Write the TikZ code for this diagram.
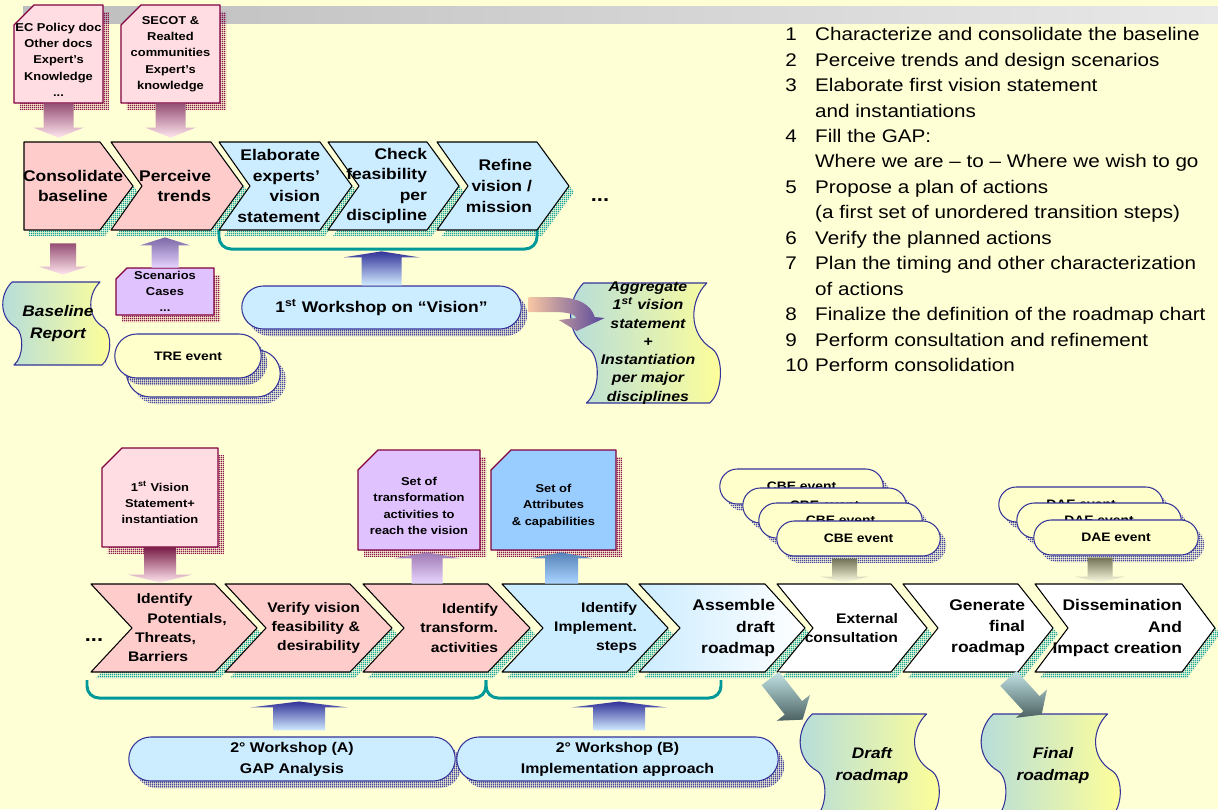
\documentclass[tikz,border=0pt]{standalone}
\usepackage{fontspec}
\setmainfont{Liberation Sans}[FakeStretch=1.13]
\usetikzlibrary{calc,shapes.misc,shadows,patterns.meta}

\definecolor{bgyellow}{HTML}{FFFFD6}
\definecolor{barL}{HTML}{BDBDBD}
\definecolor{barR}{HTML}{E8E8E8}
\definecolor{chpink}{HTML}{FFCCCC}
\definecolor{chblue}{HTML}{CCECFF}
\definecolor{docpink}{HTML}{FFDDE3}
\definecolor{docpurple}{HTML}{E0C2FF}
\definecolor{docblue}{HTML}{99CCFF}
\definecolor{docedge}{HTML}{800040}
\definecolor{shteal}{HTML}{009999}
\definecolor{wsedge}{HTML}{333399}
\definecolor{evyellow}{HTML}{FFFFCC}
\definecolor{wavyL}{HTML}{B4DCDC}
\definecolor{wavyR}{HTML}{FFFF99}

\tikzdeclarepattern{
  name=finegrid,
  type=uncolored,
  bounding box={(0pt,0pt) and (1.2pt,1.2pt)},
  tile size={(1.2pt,1.2pt)},
  code={\draw[line width=0.6pt] (0pt,0.6pt) -- (1.2pt,0.6pt) (0.6pt,0pt) -- (0.6pt,1.2pt);}
}

\tikzset{
  chev/.style={draw=black, line width=0.6pt, general shadow={shadow xshift=0.1cm, shadow yshift=-0.12cm, pattern=finegrid, pattern color=shteal}},
  ctext/.style={font=\fontsize{8.8}{11.7}\selectfont\bfseries},
  btext/.style={font=\fontsize{7.9}{11}\selectfont\bfseries},
  bbtext/.style={font=\fontsize{8.8}{12}\selectfont\bfseries},
  docshape/.style={draw=docedge, line width=0.7pt, general shadow={shadow xshift=0.12cm, shadow yshift=-0.14cm, pattern=finegrid, pattern color=docedge}},
  doctext/.style={inner sep=0pt, align=center, font=\fontsize{6.5}{9.3}\selectfont\bfseries},
  stad/.style={rounded rectangle, draw=wsedge, line width=0.6pt, inner sep=1pt, align=center, general shadow={shadow xshift=0.12cm, shadow yshift=-0.14cm, pattern=finegrid, pattern color=wsedge}},
  event/.style={stad, fill=evyellow, font=\fontsize{7}{9}\selectfont\bfseries},
  wavy/.style={draw=wsedge, line width=0.6pt, left color=wavyL, right color=wavyR},
  wtext/.style={font=\fontsize{8.7}{12.5}\selectfont\bfseries\itshape, align=center, inner sep=0pt},
  brace/.style={draw=shteal, line width=1.7pt, rounded corners=0.24cm},
  arrpink/.style={top color={rgb,255:red,149;green,80;blue,117}, bottom color={rgb,255:red,255;green,230;blue,238}},
  arrvis/.style={top color={rgb,255:red,122;green,30;blue,72}, bottom color={rgb,255:red,255;green,230;blue,238}},
  arrpurple/.style={top color={rgb,255:red,123;green,104;blue,166}, bottom color={rgb,255:red,230;green,211;blue,255}},
  arrtrans/.style={top color={rgb,255:red,158;green,120;blue,178}, bottom color={rgb,255:red,233;green,214;blue,255}},
  arrnavy/.style={top color=wsedge, bottom color={rgb,255:red,210;green,236;blue,255}},
  arrblue/.style={top color={rgb,255:red,86;green,130;blue,184}, bottom color={rgb,255:red,171;green,213;blue,255}},
  arrolive/.style={top color={rgb,255:red,114;green,114;blue,87}, bottom color={rgb,255:red,255;green,255;blue,228}},
  arrslate/.style={top color={rgb,255:red,194;green,228;blue,230}, bottom color={rgb,255:red,76;green,97;blue,97}},
  arrcurve/.style={left color={rgb,255:red,247;green,198;blue,163}, right color={rgb,255:red,86;green,70;blue,154}},
}

% chevron: [fill] name, left x, right x, notch, point, text options, text
\def\cyt{142}\def\cyb{230}
\newcommand\chevron[8][]{%
  \path[chev,#1] (#3,\cyt) -- (#4,\cyt) -- ({#4+#6},{(\cyt+\cyb)/2}) -- (#4,\cyb) -- (#3,\cyb) -- ({#3+#5},{(\cyt+\cyb)/2}) -- cycle;
  \pgfmathsetmacro\chw{(#4-#3)*0.02}
  \node[inner sep=0pt, minimum height={(\cyb-\cyt)*0.02cm}, text width=\chw cm, #7] (#2) at ({(#3+#4)/2},{(\cyt+\cyb)/2}) {#8};}

% document with cut corner: [fill] name, x1, y1, x2, y2, cut, text
\newcommand\docbox[8][]{%
  \path[docshape,#1] (#3,{#4+#7}) -- ({#3+#7},#4) -- (#5,#4) -- (#5,#6) -- (#3,#6) -- cycle;
  \pgfmathsetmacro\dbw{(#5-#3)*0.02}\pgfmathsetmacro\dbh{(#6-#4)*0.02}
  \node[doctext, minimum width=\dbw cm, minimum height=\dbh cm] (#2) at ({(#3+#5)/2},{(#4+#6)/2}) {#8};}

% block arrow: [shading] from, to, shaft half, head half, head length (px)
\newcommand\barrow[6][]{%
  \coordinate (bh) at ($(#3)!#6*0.02cm!(#2)$);
  \path[#1] ($(#2)!#4*0.02cm!90:(#3)$) -- ($(bh)!#4*0.02cm!-90:(#2)$) -- ($(bh)!#5*0.02cm!-90:(#2)$) -- (#3)
    -- ($(bh)!#5*0.02cm!90:(#2)$) -- ($(bh)!#4*0.02cm!90:(#2)$) -- ($(#2)!#4*0.02cm!-90:(#3)$) -- cycle;}

% wavy document: [text options] name, x, y, w, h, text
\newcommand\wavydoc[7][]{%
  \pgfmathsetmacro\wdx{#5*0.02}\pgfmathsetmacro\wdy{#6*0.02}
  \begin{scope}[shift={(#3,#4)}, x=\wdx cm, y=-\wdy cm]
    \path[wavy] (0.04,0) -- (0.92,0) .. controls (0.80,0.14) and (0.78,0.42) .. (0.96,0.55)
      .. controls (1.04,0.62) and (1.04,0.90) .. (0.94,1) -- (0.06,1)
      .. controls (0.16,0.90) and (0.16,0.62) .. (0.08,0.55)
      .. controls (-0.10,0.42) and (-0.08,0.14) .. (0.04,0) -- cycle;
    \node[wtext, minimum width=\wdx cm, minimum height=\wdy cm, #1] (#2) at (0.5,0.5) {#7};
  \end{scope}}

\newcommand\stepno[1]{\makebox[17pt][l]{#1}}
\newcommand\stepgo{\hspace*{17pt}}

\begin{document}
\begin{tikzpicture}[x=0.02cm, y=-0.02cm, line join=round]
%%%%% START %%%%%
\useasboundingbox (0,0) rectangle (1218,809);
\fill[bgyellow] (0,0) rectangle (1218,809);
\shade[left color=barL, right color=barR] (23,6) rectangle (1218,23);

%%%%% TOP ROW %%%%%
\draw[brace] (219,230) -- (219,249) -- (537,249) -- (537,230);

\chevron[fill=chpink]{c1}{24}{100}{0}{33}{ctext, align=center, text width=2cm, xshift=0.22cm}{Consolidate\\baseline}
\chevron[fill=chpink]{c2}{111}{211}{31}{32}{ctext, align=right}{Perceive\\trends}
\chevron[fill=chblue]{c3}{219}{320}{31}{32}{ctext, align=right}{Elaborate\\experts’\\vision\\statement}
\chevron[fill=chblue]{c4}{328}{427}{31}{32}{ctext, align=right}{Check\\feasibility\\per\\discipline}
\chevron[fill=chblue]{c5}{437}{537}{31}{32}{ctext, align=right, xshift=-0.1cm}{Refine\\vision /\\mission}
\node[font=\fontsize{11}{11}\selectfont\bfseries] (dots1) at (600,200) {...};

\docbox[fill=docpink]{doc1}{14}{5}{103}{103}{20}{\mbox{}\\[2pt]EC Policy doc\\Other docs\\Expert’s\\Knowledge\\...}
\docbox[fill=docpink]{doc2}{121}{5}{220}{103}{20}{SECOT \&\\Realted\\communities\\Expert’s\\knowledge}

\coordinate (a1s) at (doc1.south);
\coordinate (a1e) at ($(doc1.south |- c1.north)+(0,-4)$);
\barrow[arrpink]{a1s}{a1e}{15}{25}{10}
\coordinate (a2s) at (doc2.south);
\coordinate (a2e) at ($(doc2.south |- c2.north)+(0,-4)$);
\barrow[arrpink]{a2s}{a2e}{15}{25}{10}

\wavydoc{base}{8}{282}{100}{83}{Baseline\\Report}
\coordinate (a3s) at ($(base.north |- c1.south)+(5,13)$);
\coordinate (a3e) at ($(base.north)+(5,-7)$);
\barrow[arrpink]{a3s}{a3e}{13}{24}{8}

\docbox[fill=docpurple]{scen}{116}{268}{214}{315}{11}{Scenarios\\Cases\\...}
\coordinate (a4s) at (scen.north);
\coordinate (a4e) at ($(scen.north |- c2.south)+(0,7)$);
\barrow[arrpurple]{a4s}{a4e}{13.5}{25}{8}

\node[event, minimum width=3.14cm, minimum height=0.94cm] (tre2) at (203.5,373.5) {};
\node[event, minimum width=3cm, minimum height=0.88cm] (tre1) at (188,356) {TRE event};

\node[stad, fill=chblue, minimum width=5.66cm, minimum height=0.86cm, font=\fontsize{8.8}{10}\selectfont\bfseries] (ws1) at (381.5,307.5) {1\textsuperscript{st} Workshop on “Vision”};
\coordinate (a5s) at (ws1.north);
\coordinate (a5e) at ($(ws1.north |- c3.south)+(0,21)$);
\barrow[arrnavy]{a5s}{a5e}{20}{38}{6}

\wavydoc[font=\fontsize{8}{10.4}\selectfont\bfseries\itshape]{agg}{578}{283}{140}{120}{Aggregate\\1\textsuperscript{st} vision\\statement\\+\\Instantiation\\per major\\disciplines}
\coordinate (cv) at ($(ws1.east)+(7,-3)$);
\path[arrcurve, shift={(cv)}] (0,-7.5) -- (25,-7.5) .. controls (50,-7.5) and (62,0) .. (66,12.5)
  -- (76,13.5) -- (48,26.5) -- (30,15.5) -- (48,13.5) .. controls (46,9.5) and (38,7.5) .. (25,7.5) -- (0,7.5) -- cycle;

\node[anchor=north west, align=left, inner sep=0pt, font=\fontsize{10.4}{14.5}\selectfont] (steps) at (785,27) {%
\stepno{1}Characterize and consolidate the baseline\\
\stepno{2}Perceive trends and design scenarios\\
\stepno{3}Elaborate first vision statement\\
\stepgo and instantiations\\
\stepno{4}Fill the GAP:\\
\stepgo Where we are – to – Where we wish to go\\
\stepno{5}Propose a plan of actions\\
\stepgo (a first set of unordered transition steps)\\
\stepno{6}Verify the planned actions\\
\stepno{7}Plan the timing and other characterization\\
\stepgo of actions\\
\stepno{8}Finalize the definition of the roadmap chart\\
\stepno{9}Perform consultation and refinement\\
\stepno{10}Perform consolidation};

%%%%% BOTTOM ROW %%%%%
\draw[brace] (87,680) -- (87,698) -- (486,698) -- (486,680);
\draw[brace] (486,680) -- (486,698) -- (721,698) -- (721,680);

\def\cyt{584}\def\cyb{672}
\chevron[fill=chpink]{b1}{91}{215}{41}{42}{btext, align=left, text width=2cm, xshift=0.5cm}{\hspace*{5pt}Identify\\\hspace*{11pt}Potentials,\\\hspace*{4pt}Threats,\\Barriers}
\chevron[fill=chpink]{b2}{225}{350}{41}{42}{btext, align=right, xshift=0.2cm}{Verify vision\\feasibility \&\\desirability}
\chevron[fill=chpink]{b3}{363}{488}{41}{42}{btext, align=right, xshift=0.2cm}{Identify\\transform.\\activities}
\chevron[fill=chblue]{b4}{502}{627}{41}{41}{btext, align=right, xshift=0.2cm}{Identify\\Implement.\\steps}
\chevron[left color=chblue, right color=white]{b5}{639}{765}{41}{40}{bbtext, align=right, xshift=0.2cm}{Assemble\\draft\\roadmap}
\chevron[fill=white]{b6}{777}{891}{36}{36}{btext, align=right, xshift=0.14cm}{External\\consultation}
\chevron[fill=white]{b7}{903}{1018}{35}{35}{bbtext, align=right, xshift=0.14cm}{Generate\\final\\roadmap}
\chevron[fill=white]{b8}{1035}{1182}{33}{33}{bbtext, align=right}{Dissemination\\And\\Impact creation}
\node[font=\fontsize{11}{11}\selectfont\bfseries] (dots2) at (94,640) {...};

\docbox[fill=docpink]{vis}{102}{448}{218}{547}{20}{\mbox{}\\[2pt]1\textsuperscript{st} Vision\\Statement+\\instantiation}
\docbox[fill=docpurple]{trans}{358}{450}{480}{550}{20}{\mbox{}\\[2pt]Set of\\transformation\\activities to\\reach the vision}
\docbox[fill=docblue]{attr}{491}{450}{616}{550}{20}{\mbox{}\\[2pt]Set of\\Attributes\\\& capabilities}

\coordinate (a6s) at (vis.south);
\coordinate (a6e) at ($(vis.south |- b1.north)+(0,-1)$);
\barrow[arrvis]{a6s}{a6e}{16}{32}{8}
\coordinate (a7s) at ($(trans.south |- b3.north)+(8,0)$);
\coordinate (a7e) at ($(trans.south)+(8,2)$);
\barrow[arrtrans]{a7s}{a7e}{15.5}{33}{6}
\coordinate (a8s) at ($(attr.south |- b4.north)+(8,0)$);
\coordinate (a8e) at ($(attr.south)+(8,2)$);
\barrow[arrblue]{a8s}{a8e}{16.5}{31}{6}

\node[event, minimum width=3.34cm, minimum height=0.7cm] (cbe4) at (801.5,486.5) {CBE event};
\node[event, minimum width=3.34cm, minimum height=0.7cm] (cbe3) at (824.5,505.5) {CBE event};
\node[event, minimum width=3.34cm, minimum height=0.7cm] (cbe2) at (840.5,520.5) {CBE event};
\node[event, minimum width=3.34cm, minimum height=0.7cm] (cbe1) at (858.5,538.5) {CBE event};
\coordinate (a9s) at ($(cbe1.south)+(-14,2)$);
\coordinate (a9e) at ($(cbe1.south |- b6.north)+(-14,-1)$);
\barrow[arrolive]{a9s}{a9e}{12.5}{24}{6}

\node[event, minimum width=3.36cm, minimum height=0.7cm] (dae3) at (1081,504.5) {DAE event};
\node[event, minimum width=3.36cm, minimum height=0.7cm] (dae2) at (1099,520.5) {DAE event};
\node[event, minimum width=3.36cm, minimum height=0.7cm] (dae1) at (1116,537.5) {DAE event};
\coordinate (a10s) at ($(dae1.south)+(-16,2)$);
\coordinate (a10e) at ($(dae1.south |- b8.north)+(-16,-1)$);
\barrow[arrolive]{a10s}{a10e}{12.5}{25}{6}

\node[stad, fill=chblue, minimum width=6.6cm, minimum height=0.88cm, font=\fontsize{8}{12}\selectfont\bfseries] (wsA) at (292,759) {2° Workshop (A)\\GAP Analysis};
\node[stad, fill=chblue, minimum width=6.5cm, minimum height=0.88cm, font=\fontsize{8}{12}\selectfont\bfseries] (wsB) at (617.5,759) {2° Workshop (B)\\Implementation approach};
\coordinate (aAs) at ($(wsA.north)+(7,-6)$);
\coordinate (aAe) at ($(wsA.north)+(7,-35)$);
\barrow[arrnavy]{aAs}{aAe}{26}{49}{6}
\coordinate (aBs) at ($(wsB.north)+(1.5,-6)$);
\coordinate (aBe) at ($(wsB.north)+(1.5,-35)$);
\barrow[arrnavy]{aBs}{aBe}{26}{48}{6}

\wavydoc{draft}{807}{714}{130}{104}{Draft\\roadmap}
\wavydoc{final}{988}{714}{130}{104}{Final\\roadmap}
\coordinate (dAs) at ($(b5.south east)+(-5,6)$);
\coordinate (dAe) at ($(draft.north west)+(-4,6)$);
\barrow[arrslate]{dAs}{dAe}{11}{21}{15}
\coordinate (dBs) at ($(b7.south east)+(-17,6)$);
\coordinate (dBe) at ($(final.north west)+(54,1)$);
\barrow[arrslate]{dBs}{dBe}{11}{21}{15}
%%%%% END %%%%%
\end{tikzpicture}
\end{document}
